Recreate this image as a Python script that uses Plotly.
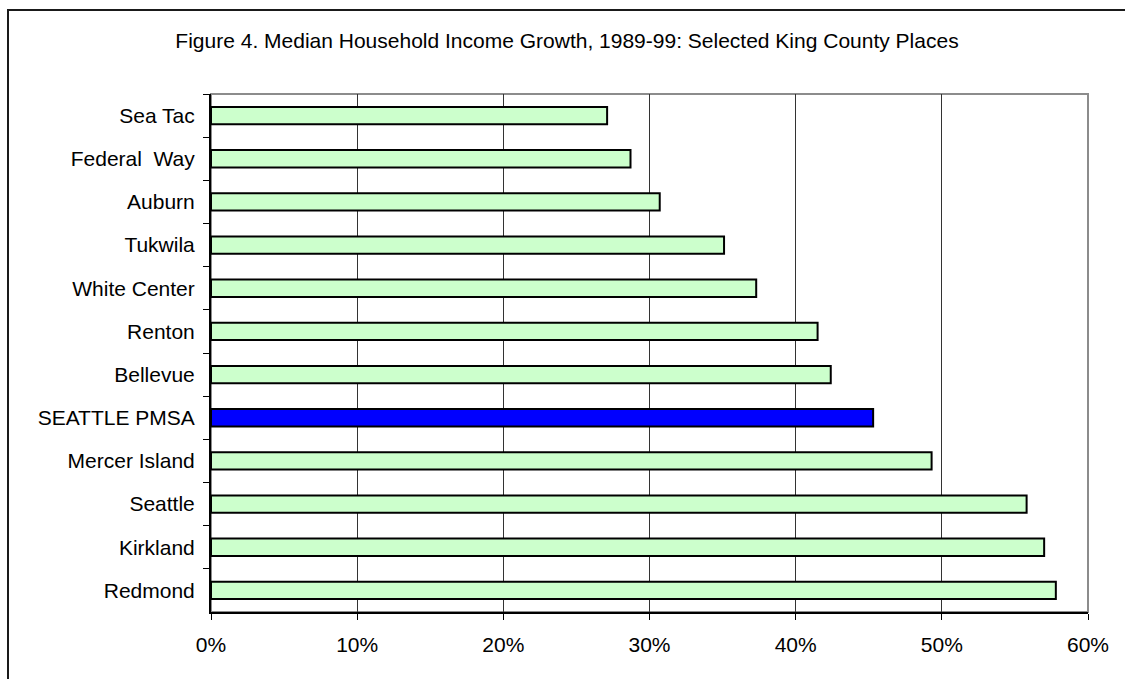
import plotly.graph_objects as go

places = ["Sea Tac", "Federal  Way", "Auburn", "Tukwila", "White Center", "Renton",
          "Bellevue", "SEATTLE PMSA", "Mercer Island", "Seattle", "Kirkland", "Redmond"]
growth_pct = [27.1, 28.7, 30.7, 35.1, 37.3, 41.5, 42.4, 45.3, 49.3, 55.8, 57.0, 57.8]
highlight = "SEATTLE PMSA"
x_ticks = [0, 10, 20, 30, 40, 50, 60]
x_tick_text = ["0%", "10%", "20%", "30%", "40%", "50%", "60%"]

colors = ["#0000FF" if p == highlight else "#CCFFCC" for p in places]

W, H = 1125, 679
L, R, T, B = 211, 37, 94, 67
pw, ph = W - L - R, H - T - B

def px_x(px):
    return (px - L) / pw

def px_y(py):
    return (H - B - py) / ph

fig = go.Figure()
fig.add_trace(go.Bar(
    y=places, x=growth_pct, orientation="h",
    marker=dict(color=colors, line=dict(color="black", width=2)),
    width=0.4,
))

font_family = "Arial, Liberation Sans, sans-serif"

fig.update_layout(
    width=W, height=H,
    margin=dict(l=L, r=R, t=T, b=B),
    paper_bgcolor="white", plot_bgcolor="white",
    showlegend=False,
    font=dict(family=font_family, size=22, color="black"),
    title=dict(
        text="Figure 4. Median Household Income Growth, 1989-99: Selected King County Places",
        x=0.504, xref="container", xanchor="center",
        y=1 - 41 / H, yref="container", yanchor="middle",
        font=dict(family=font_family, size=21, color="black"),
    ),
    xaxis=dict(
        range=[0, 60], tickvals=x_ticks, ticktext=x_tick_text,
        showgrid=True, gridcolor="#333333", gridwidth=1,
        showline=True, linecolor="black", linewidth=2,
        ticks="outside", ticklen=6, tickcolor="black", tickwidth=1,
        ticklabelstandoff=7,
        zeroline=False, fixedrange=True,
        tickfont=dict(size=21),
    ),
    yaxis=dict(
        autorange="reversed", type="category",
        showline=True, linecolor="black", linewidth=2,
        ticks="outside", tickson="boundaries", ticklen=6, tickcolor="black", tickwidth=1,
        ticklabelstandoff=10,
        showgrid=False, fixedrange=True,
        tickfont=dict(size=21),
    ),
    shapes=[
        dict(type="rect", xref="paper", yref="paper", x0=0, x1=1, y0=0, y1=1,
             line=dict(color="#8C8C8C", width=2), layer="below"),
        dict(type="rect", xref="paper", yref="paper",
             x0=px_x(8), x1=px_x(1140), y0=px_y(700), y1=px_y(10),
             line=dict(color="#1a1a1a", width=2), layer="below"),
    ],
)

fig.write_html("out.html")
